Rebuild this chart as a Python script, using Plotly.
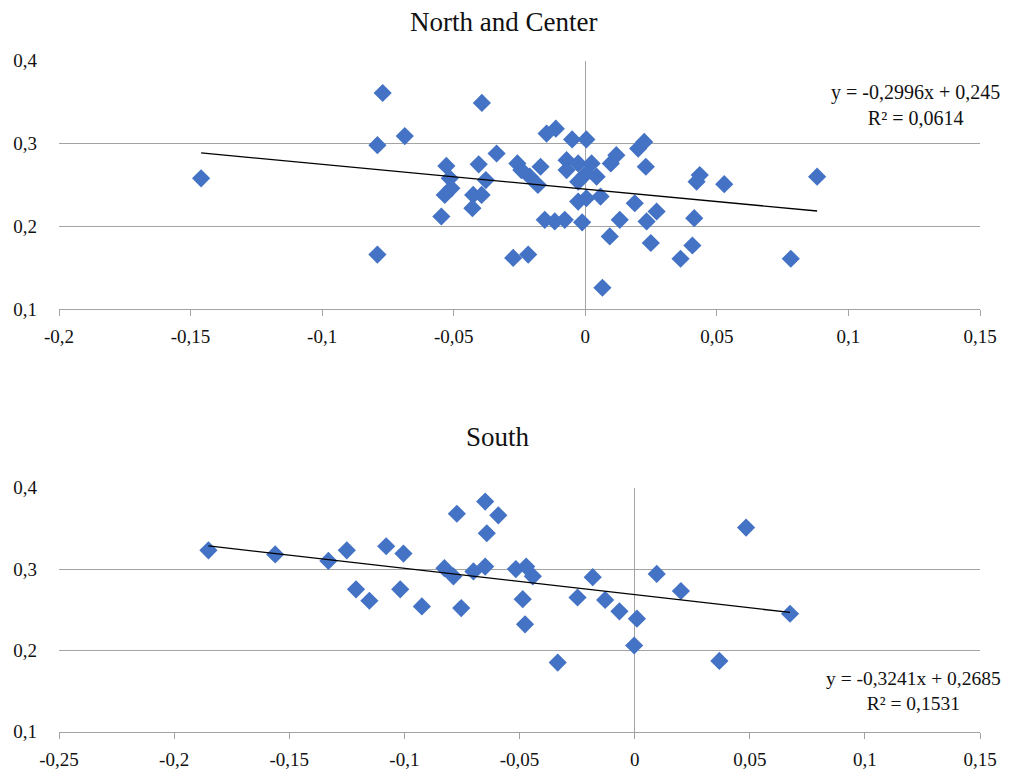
import plotly.graph_objects as go

# ---- North and Center ----
nc_x = [-0.146, -0.077, -0.079, -0.0686, -0.079, -0.0393, -0.0528, -0.0515, -0.0509, -0.0534,
        -0.0547, -0.0405, -0.0378, -0.0426, -0.0394, -0.0429, -0.0337, -0.0258, -0.0243, -0.0211,
        -0.017, -0.018, -0.0274, -0.0217, -0.0154, -0.0116, -0.0078, -0.0147, -0.0112, -0.005,
        0.0004, -0.0071, -0.0071, -0.0027, 0.0024, 0.0004, 0.0043, -0.0027, -0.0027, 0.0004,
        0.0058, -0.0012, 0.0097, 0.0118, 0.0093, 0.0065, 0.0188, 0.0131, 0.0201, 0.0224,
        0.023, 0.0271, 0.0233, 0.0249, 0.0435, 0.0423, 0.0528, 0.0881, 0.0414, 0.0407,
        0.0362, 0.0781]
nc_y = [0.258, 0.361, 0.298, 0.309, 0.166, 0.349, 0.273, 0.258, 0.246, 0.238,
        0.212, 0.275, 0.256, 0.238, 0.238, 0.222, 0.288, 0.276, 0.268, 0.260,
        0.272, 0.250, 0.162, 0.166, 0.208, 0.206, 0.208, 0.312, 0.318, 0.305,
        0.305, 0.280, 0.268, 0.276, 0.276, 0.264, 0.260, 0.254, 0.230, 0.234,
        0.236, 0.205, 0.276, 0.286, 0.188, 0.126, 0.228, 0.208, 0.294, 0.302,
        0.272, 0.218, 0.206, 0.180, 0.262, 0.254, 0.251, 0.260, 0.210, 0.177,
        0.161, 0.161]
nc_slope, nc_intercept = -0.2996, 0.245
nc_eq = ["y = -0,2996x + 0,245", "R² = 0,0614"]

# ---- South ----
s_x = [-0.1851, -0.1561, -0.133, -0.125, -0.121, -0.1152, -0.1079, -0.1004, -0.1018, -0.0924,
       -0.0772, -0.0649, -0.0592, -0.0642, -0.0826, -0.0787, -0.070, -0.0649, -0.0753, -0.0516,
       -0.0471, -0.0442, -0.0486, -0.0476, -0.0334, -0.0248, -0.0182, -0.0128, -0.0066, 0.001,
       -0.0002, 0.0096, 0.0484, 0.0201, 0.0675, 0.0368]
s_y = [0.323, 0.318, 0.310, 0.323, 0.275, 0.261, 0.328, 0.319, 0.275, 0.254,
       0.368, 0.383, 0.366, 0.344, 0.301, 0.291, 0.297, 0.303, 0.252, 0.300,
       0.303, 0.291, 0.263, 0.232, 0.185, 0.265, 0.290, 0.262, 0.248, 0.239,
       0.206, 0.294, 0.351, 0.273, 0.245, 0.187]
s_slope, s_intercept = -0.3241, 0.2685
s_eq = ["y = -0,3241x + 0,2685", "R² = 0,1531"]

titles = ["North and Center", "South"]
y_ticks = [0.1, 0.2, 0.3, 0.4]
y_ticklabels = ["0,1", "0,2", "0,3", "0,4"]
nc_xticks = [-0.2, -0.15, -0.1, -0.05, 0, 0.05, 0.1, 0.15]
nc_xticklabels = ["-0,2", "-0,15", "-0,1", "-0,05", "0", "0,05", "0,1", "0,15"]
s_xticks = [-0.25, -0.2, -0.15, -0.1, -0.05, 0, 0.05, 0.1, 0.15]
s_xticklabels = ["-0,25", "-0,2", "-0,15", "-0,1", "-0,05", "0", "0,05", "0,1", "0,15"]

FONT = "Liberation Serif"
MARK = "#4472C4"
GRID = "#A3A3A3"
TXT = "#111111"

fig = go.Figure()

def add_panel(xs, ys, slope, intercept, xa, ya):
    fig.add_trace(go.Scatter(x=xs, y=ys, mode="markers", xaxis=xa, yaxis=ya,
                             marker=dict(symbol="diamond", size=14, color=MARK, line=dict(width=0)),
                             showlegend=False, hoverinfo="x+y"))
    x0, x1 = min(xs), max(xs)
    fig.add_trace(go.Scatter(x=[x0, x1], y=[slope * x0 + intercept, slope * x1 + intercept],
                             mode="lines", xaxis=xa, yaxis=ya,
                             line=dict(color="black", width=1.3), showlegend=False, hoverinfo="skip"))

add_panel(nc_x, nc_y, nc_slope, nc_intercept, "x", "y")
add_panel(s_x, s_y, s_slope, s_intercept, "x2", "y2")

# page has an 8px body margin; figure fills the remaining window
OFF = 8
W, H = 1013 - OFF, 770 - OFF

def px(v):
    return (v - OFF) / W

def py(v):
    return 1 - (v - OFF) / H

xdom = [px(59), px(980)]
top_dom = [py(309.3), py(60.7)]
bot_dom = [py(731.7), py(487.7)]

def xaxis_cfg(rng, tv, tt, anchor):
    return dict(domain=xdom, range=rng, tickmode="array", tickvals=tv, ticktext=tt,
                showgrid=False, zeroline=True, zerolinecolor=GRID, zerolinewidth=1.3,
                showline=True, linecolor=GRID, linewidth=1.3,
                ticks="outside", ticklen=6, tickcolor=GRID, tickwidth=1.3, automargin=False,
                ticklabelstandoff=4,
                tickfont=dict(family=FONT, size=19, color=TXT), anchor=anchor, fixedrange=True)

def yaxis_cfg(dom, anchor):
    return dict(domain=dom, range=[0.1, 0.4], tickmode="array", tickvals=y_ticks, ticktext=y_ticklabels,
                showgrid=True, gridcolor=GRID, gridwidth=1.3, zeroline=False, showline=False,
                ticks="", ticklabelstandoff=21, automargin=False,
                tickfont=dict(family=FONT, size=19, color=TXT), anchor=anchor, fixedrange=True)

fig.update_layout(
    width=W, height=H,
    margin=dict(l=0, r=0, t=0, b=0, pad=0, autoexpand=False),
    paper_bgcolor="white", plot_bgcolor="white",
    xaxis=xaxis_cfg([-0.2, 0.15], nc_xticks, nc_xticklabels, "y"),
    yaxis=yaxis_cfg(top_dom, "x"),
    xaxis2=xaxis_cfg([-0.25, 0.15], s_xticks, s_xticklabels, "y2"),
    yaxis2=yaxis_cfg(bot_dom, "x2"),
    font=dict(family=FONT, color=TXT),
)

annots = [
    dict(text=titles[0], x=px(503), y=py(22), xref="paper", yref="paper",
         showarrow=False, font=dict(family=FONT, size=27, color=TXT), xanchor="center", yanchor="middle"),
    dict(text=titles[1], x=px(498), y=py(437), xref="paper", yref="paper",
         showarrow=False, font=dict(family=FONT, size=27, color=TXT), xanchor="center", yanchor="middle"),
    dict(text="<br>".join(nc_eq), x=px(915), y=py(105), xref="paper", yref="paper",
         showarrow=False, align="center", font=dict(family=FONT, size=20, color=TXT),
         xanchor="center", yanchor="middle"),
    dict(text="<br>".join(s_eq), x=px(913), y=py(691), xref="paper", yref="paper",
         showarrow=False, align="center", font=dict(family=FONT, size=19.5, color=TXT),
         xanchor="center", yanchor="middle"),
]
fig.update_layout(annotations=annots)

fig.write_html("out.html")
